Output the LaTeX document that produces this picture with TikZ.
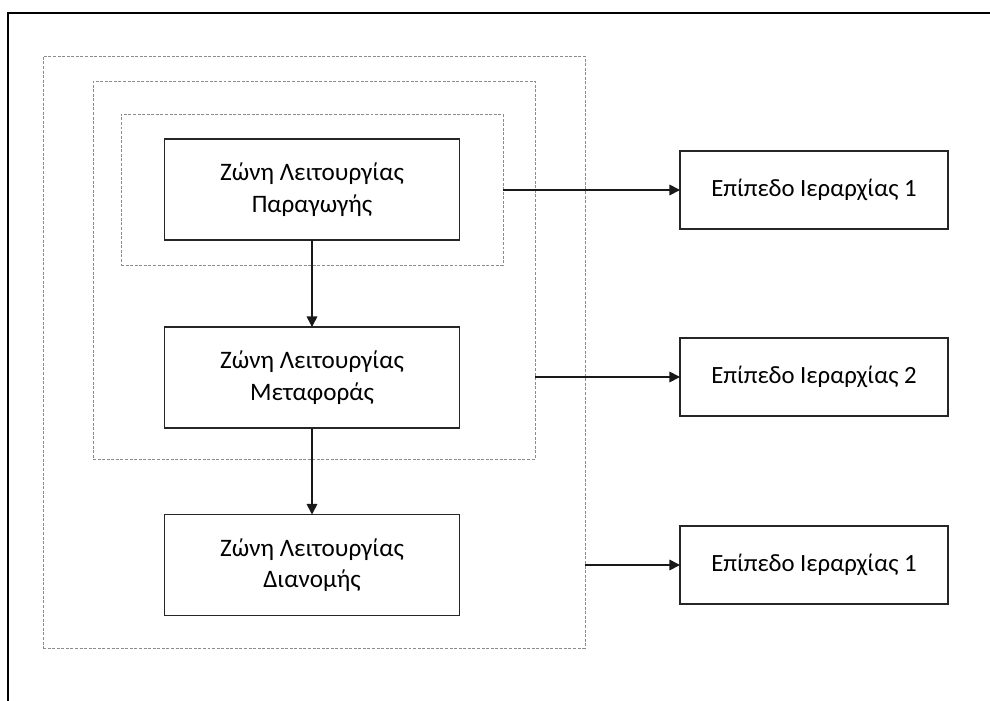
\documentclass[tikz,border=0pt]{standalone}
\usepackage{fontspec}
\setmainfont{Carlito}
\usetikzlibrary{arrows.meta}
\begin{document}
\begin{tikzpicture}[x=0.02cm,y=-0.02cm,
  zonebox/.style={draw=black!85,line width=0.8pt,fill=white,align=center,inner sep=0pt,outer sep=0pt,
    minimum width=5.9cm,minimum height=2.02cm,font=\fontsize{14.3}{18}\selectfont},
  levelbox/.style={draw=black!85,line width=0.8pt,align=center,inner sep=0pt,outer sep=0pt,
    minimum width=5.36cm,minimum height=1.56cm,font=\fontsize{14.1}{18}\selectfont},
  dashbox/.style={draw=black!45,line width=0.45pt,dash pattern=on 1.7pt off 0.9pt,inner sep=0pt,outer sep=0pt},
  conn/.style={line width=0.9pt,draw=black!90,-{Triangle[length=6pt,width=6pt]}}]
\useasboundingbox (0,0) rectangle (990,700);
\begin{scope}
\clip (0,0) rectangle (990,700);
\draw[line width=1.3pt] (8,13) rectangle (1000,712);
\end{scope}
% dashed zones
\node[dashbox,minimum width=10.84cm,minimum height=11.84cm] (D1) at (314,352) {};
\node[dashbox,minimum width=8.84cm,minimum height=7.56cm] (D2) at (314,270) {};
\node[dashbox,minimum width=7.64cm,minimum height=3.02cm] (D3) at (312,189.5) {};
% zone boxes
\node[zonebox] (Z1) at (312,189.5) {Ζώνη Λειτουργίας\\Παραγωγής};
\node[zonebox] (Z2) at (312,377.5) {Ζώνη Λειτουργίας\\Μεταφοράς};
\node[zonebox] (Z3) at (312,565) {Ζώνη Λειτουργίας\\Διανομής};
% level boxes
\node[levelbox] (L1) at (814,190) {Επίπεδο Ιεραρχίας 1};
\node[levelbox] (L2) at (814,377) {Επίπεδο Ιεραρχίας 2};
\node[levelbox] (L3) at (814,565) {Επίπεδο Ιεραρχίας 1};
% connectors
\draw[conn] (Z1.south) -- (Z2.north);
\draw[conn] (Z2.south) -- (Z3.north);
\draw[conn] (D3.east |- L1.west) -- (L1.west);
\draw[conn] (D2.east |- L2.west) -- (L2.west);
\draw[conn] (D1.east |- L3.west) -- (L3.west);
\end{tikzpicture}
\end{document}
